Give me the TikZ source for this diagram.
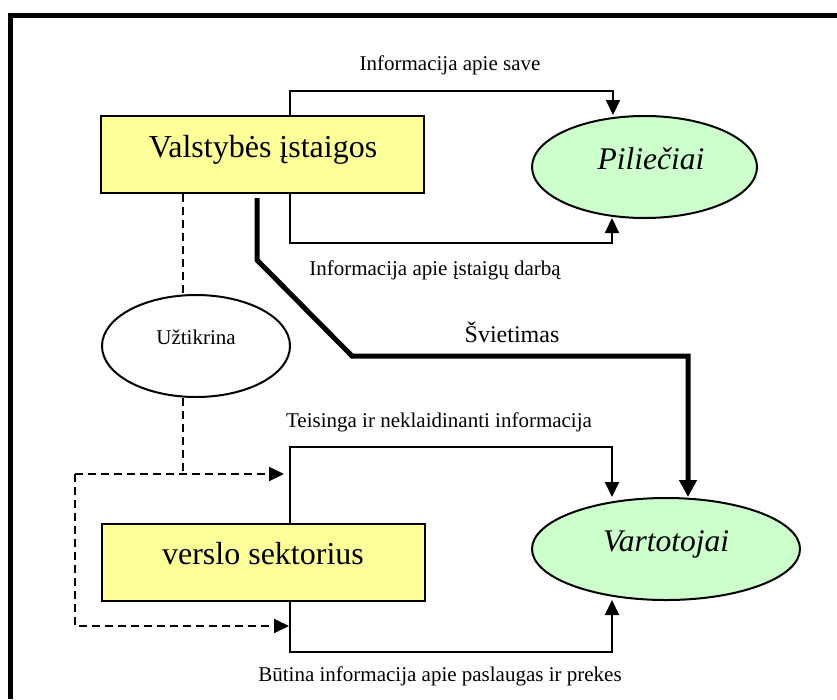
\documentclass[tikz,border=0pt]{standalone}
\usepackage{fontspec}
\setmainfont{Liberation Serif}
\usetikzlibrary{arrows.meta,shapes.geometric}
\definecolor{boxyellow}{HTML}{FFFF99}
\definecolor{ellgreen}{HTML}{CCFFCC}
\tikzset{
  boxnode/.style={draw=black,line width=2pt,fill=boxyellow,rectangle,inner sep=0pt,minimum width=323pt,minimum height=77pt},
  ellnode/.style={draw=black,line width=2pt,ellipse,inner sep=0pt},
  lbl/.style={anchor=base,inner sep=0pt,font=\fontsize{21}{24}\selectfont},
  bigtxt/.style={anchor=base,inner sep=0pt,font=\fontsize{32}{36}\selectfont},
  ittxt/.style={anchor=base,inner sep=0pt,font=\fontsize{31.5}{36}\selectfont\itshape},
  conn/.style={line width=2pt,-{Triangle[length=15pt,width=14pt]}},
  thickconn/.style={line width=5pt,-{Triangle[length=17pt,width=17pt]}},
  dashconn/.style={line width=2pt,dash pattern=on 8pt off 5pt},
  dasharr/.style={dashconn,-{Triangle[length=15pt,width=14pt]}},
}
\begin{document}
\begin{tikzpicture}[x=1pt,y=-1pt]
\useasboundingbox (0,0) rectangle (837,699);
% frame
\draw[line width=5pt] (10.5,699) -- (10.5,15.5) -- (837,15.5);

% shapes
\node[boxnode] (vb) at (262.5,154.5) {};
\node[boxnode] (vs) at (263.5,562) {};
\node[ellnode,fill=ellgreen,minimum width=225pt,minimum height=102pt] (pil) at (644.5,167) {};
\node[ellnode,fill=ellgreen,minimum width=268pt,minimum height=102pt] (vart) at (666,549) {};
\node[ellnode,fill=white,minimum width=188pt,minimum height=102pt] (utk) at (196,346) {};

% texts in shapes
\node[bigtxt] (tvb) at (263,157) {Valstybės įstaigos};
\node[bigtxt] (tvs) at (263,564) {verslo sektorius};
\node[ittxt] (tpil) at (651,169) {Piliečiai};
\node[ittxt] (tvart) at (666,551) {Vartotojai};
\node[lbl] (tutk) at (196,344) {Užtikrina};

% labels
\node[lbl] (l1) at (450,70) {Informacija apie save};
\node[lbl] (l2) at (435,275) {Informacija apie įstaigų darbą};
\node[anchor=base,inner sep=0pt,font=\fontsize{24}{28}\selectfont] (l3) at (512,342) {Švietimas};
\node[lbl] (l4) at (439,427) {Teisinga ir neklaidinanti informacija};
\node[lbl] (l5) at (440,681) {Būtina informacija apie paslaugas ir prekes};

% coordinates
\coordinate (a1) at (290,91);
\coordinate (a2) at (613,91);
\coordinate (b1) at (290,243);
\coordinate (b2) at (612,243);
\coordinate (c1) at (290,447);
\coordinate (c2) at (612,447);
\coordinate (e1) at (290,652);
\coordinate (e2) at (612,652);
\coordinate (s1) at (257,260);
\coordinate (s2) at (352,356);
\coordinate (s3) at (688,356);
\coordinate (d1) at (183,474);
\coordinate (k1) at (75,474);
\coordinate (k2) at (75,626);
\coordinate (t1) at (284,474);
\coordinate (t2) at (289,626);

% solid connectors
\draw[conn] (vb.north -| a1) -- (a1) -- (a2) -- (a2 |- pil.north);
\draw[conn] (vb.south -| b1) -- (b1) -- (b2) -- ([yshift=1pt]b2 |- pil.south);
\draw[conn] (vs.north -| c1) -- (c1) -- (c2) -- (c2 |- vart.north);
\draw[conn] (vs.south -| e1) -- (e1) -- (e2) -- ([yshift=1pt]e2 |- vart.south);
\draw[thickconn] ([yshift=-4pt]vb.south -| s1) -- (s1) -- (s2) -- (s3) -- (s3 |- vart.north);

% dashed connectors
\draw[dashconn] (vb.south -| d1) -- ([yshift=-1pt]d1 |- utk.north);
\draw[dashconn] (d1 |- utk.south) -- ([yshift=2pt]d1);
\draw[dasharr] (k1) -- (t1);
\draw[dasharr] (k1) -- (k2) -- (t2);
\end{tikzpicture}
\end{document}
